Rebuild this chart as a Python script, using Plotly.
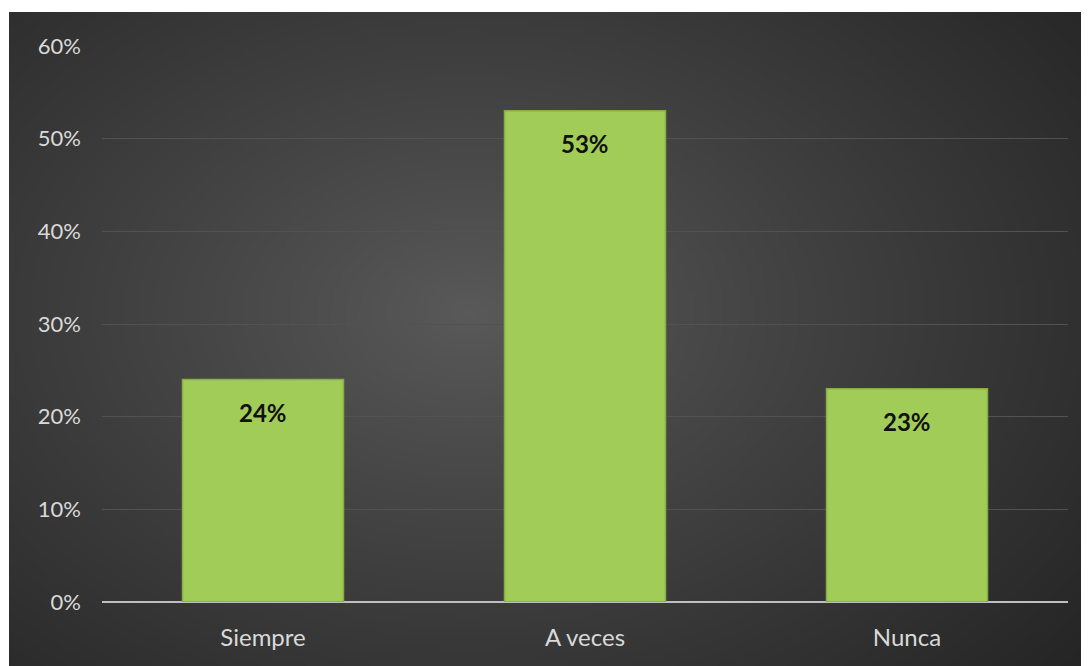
import base64, struct, zlib
import numpy as np
import plotly.graph_objects as go

categories = ["Siempre", "A veces", "Nunca"]
values = [0.24, 0.53, 0.23]
labels = ["24%", "53%", "23%"]
tick_vals = [0, 0.1, 0.2, 0.3, 0.4, 0.5, 0.6]
tick_text = ["0%", "10%", "20%", "30%", "40%", "50%", "60%"]

# ---- radial gradient background as an embedded PNG ----
def make_png(w, h):
    yy, xx = np.mgrid[0:h, 0:w].astype(float)
    cx, cy = 0.42 * w, 0.45 * h
    rx, ry = 0.75 * w, 0.85 * h
    t = np.sqrt(((xx - cx) / rx) ** 2 + ((yy - cy) / ry) ** 2)
    t = np.clip(t, 0, 1) ** 0.9
    c0 = np.array([0x5a, 0x5a, 0x5a], float)
    c1 = np.array([0x24, 0x24, 0x24], float)
    img = (c0[None, None, :] * (1 - t[..., None]) + c1[None, None, :] * t[..., None]).astype(np.uint8)
    raw = b"".join(b"\x00" + img[r].tobytes() for r in range(h))
    def chunk(tag, data):
        return struct.pack(">I", len(data)) + tag + data + struct.pack(">I", zlib.crc32(tag + data) & 0xffffffff)
    png = b"\x89PNG\r\n\x1a\n" + chunk(b"IHDR", struct.pack(">IIBBBBB", w, h, 8, 2, 0, 0, 0)) \
        + chunk(b"IDAT", zlib.compress(raw, 9)) + chunk(b"IEND", b"")
    return "data:image/png;base64," + base64.b64encode(png).decode()

# page has an 8px body margin, so the figure is 8px smaller and shifted
W, H = 1081, 658
ml, mr, mt, mb = 94, 21, 38, 64
pw, ph = W - ml - mr, H - mt - mb
bg_left, bg_top = 1, 4

FONT = "Lato, Open Sans, sans-serif"

fig = go.Figure()
fig.add_trace(go.Bar(
    x=categories, y=values,
    marker=dict(color="#a2cc58", line=dict(color="#8aad42", width=1.5)),
    width=0.5, hoverinfo="skip",
))

for c, v, lab in zip(categories, values, labels):
    fig.add_annotation(x=c, y=v, text="<b>" + lab + "</b>", showarrow=False,
                       yanchor="middle", yshift=-33,
                       font=dict(family=FONT, size=24, color="#111111"))

fig.add_layout_image(dict(
    source=make_png(270, 164), xref="paper", yref="paper",
    x=(bg_left - ml) / pw, y=1 + (mt - bg_top) / ph,
    sizex=(W - bg_left + 10) / pw, sizey=(H - bg_top + 10) / ph,
    xanchor="left", yanchor="top", sizing="stretch", layer="below",
))

fig.update_layout(
    width=W, height=H,
    margin=dict(l=ml, r=mr, t=mt, b=mb),
    paper_bgcolor="white", plot_bgcolor="rgba(0,0,0,0)",
    showlegend=False, bargap=0.5,
    font=dict(family=FONT, size=22, color="#d9d9d9"),
    xaxis=dict(showgrid=False, showline=False, zeroline=False, ticks="",
               ticklabelstandoff=19, tickfont=dict(size=24, color="#d9d9d9")),
    yaxis=dict(range=[0, 0.6], tickvals=tick_vals, ticktext=tick_text,
               showgrid=True, gridcolor="#525252", gridwidth=1,
               zeroline=True, zerolinecolor="#bfbfbf", zerolinewidth=2,
               showline=False, ticks="", ticklabelstandoff=20,
               tickfont=dict(size=22, color="#d9d9d9")),
)

fig.write_html("out.html")
